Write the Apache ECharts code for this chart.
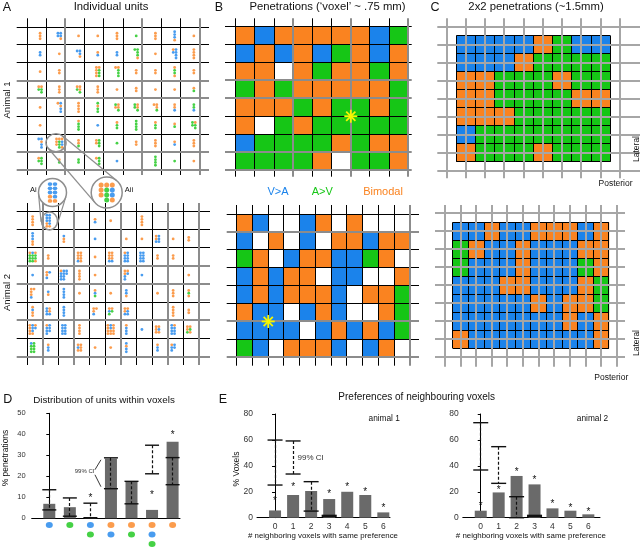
<!DOCTYPE html>
<html>
<head>
<meta charset="utf-8">
<title>Voxel preferences</title>
<script src="https://cdn.jsdelivr.net/npm/echarts@6.0.0/dist/echarts.min.js"></script>
<style>
html,body{margin:0;padding:0;background:#ffffff;}
#chart{width:640px;height:547px;}
</style>
</head>
<body>
<div id="chart"></div>
<script>
// ================= DATA =================
// Panel A: units per penetration; each cell = columns of dots separated by "|", top to bottom
// b = V>A (blue), g = A>V (green), o = bimodal (orange), _ = gap
const A1_UNITS = [
  ["ooo","bb|bbo","o","o","ooo","g","ooo","bbbo","o"],
  ["bb","o","b|bbo","ob","bb","g|gggo","o","ob|bbbb","oooo"],
  ["o","oo","","oooo|oggg","o|oggg","oo","oo","oggo","oo"],
  ["og|ogg","ooo","og|oog","ooo","o","oo","o","o","og"],
  ["o","o|bobb","oooo","gogg","go|oog","gg|oog","o|oog","oob","ggb"],
  ["o","","oggg","b","ogg","gggg","ogg","og","gg|ogg"],
  ["b|bobb","ooo|oggg|obbo","oog","oo|ggg","g","oo","ooo","ob","ooo"],
  ["og|ggg","og","gg","o|ggg","b","","gggg","g","o"]
];
const A2_UNITS = [
  ["oooo","bbboo|bbbbo","","","ob","o","","oooo","","",""],
  ["bbboo","","boo","","b","","o","o","oob|bbb","o","oo"],
  ["oggg|bggg|oggo","oo","","ooob|oooo","o","ooob|ooob","obbb|bbbb","bbbb|bbbb","oo","oo",""],
  ["b","oob|b","obbb|bbbb|bb","oooo","o","","oobb|ob","b","","","o"],
  ["ooob|o","bo","bbbb","o","obg","o","bbo","","o","ooo","ogo"],
  ["oboo","bbb|oob","bbbb","","oob|o","obg|og","oob|obb","","","oooo","oo"],
  ["oooo|bbbo|ob","obbb|bbb","bbbb|bbbb","oooo","","oooo|bboo|oooo","obbb","b","ooo|obo","bbbb|obbb","oog|ogo"],
  ["bggg|gggg","obb","","obo|ooo","o","o","bobb","","obb","obb|bb",""]
];
const AI_UNITS = ["bbboo", "bbbbo"];
const AII_UNITS = ["ooo_", "oggg", "obbo"];

// Panel B: voxel preference per penetration (w = none)
const B1_CELLS = [
  "obooooobg",
  "bobobgobo",
  "oowoggogo".slice(0,0) + "oowogoogo",
  "gogoooooo".slice(0,0) + "gogooooog",
  "ooogoggog",
  "owgoggggg",
  "bggggogoo",
  "ggggowggo"
];
const B2_CELLS = [
  "obwwbowowww",
  "bwowbwooboo",
  "gowboobbgow",
  "boboowbbwwo",
  "bobooobwoog",
  "obbwbobwwog",
  "bbbbwbobobg",
  "gbwooobwbow"
];
const B1_STAR = [6, 5];
const B2_STAR = [2, 6];

// Panel C: 2x2 penetration blocks
const C1_BLOCKS = [
  "bbbbogbb",
  "bbbogggg",
  "oogggogg",
  "ooggggoo",
  "oooggggg",
  "bggggggg",
  "ogggoggg"
];
const C2_BLOCKS = [
  "bbobbooobo",
  "gobbobbboo",
  "gbbbobbbgo",
  "bbboobbbog",
  "bbbbboboog",
  "bbbbbbbobo",
  "obbbbbbbbo"
];

// Panel D: distribution of units within voxels (% penetrations)
const D_CATEGORIES = [0, 1, 2, 3, 4, 5, 6];
const D_VALUES = [6.9, 5.3, 0.3, 28.4, 17.6, 4.0, 36.4];
const D_CI_LO = [4.0, 1.0, 0.3, 14.1, 6.9, 21.2, 16.0];
const D_CI_HI = [13.6, 9.7, 7.2, 28.8, 17.6, 34.8, 28.9];
const D_STARS = [null, null, 10.6, null, null, 12.0, 40.4];
const D_DOTS = ["b", "g", "bg", "ob", "og", "obg", "o"];
const D_TICKS = [0, 10, 20, 30, 40, 50];

// Panel E: % voxels by number of neighbours with same preference
const E_CATEGORIES = [0, 1, 2, 3, 4, 5, 6];
const E1_VALUES = [5.6, 17.5, 20.6, 14.4, 20.0, 17.5, 4.1];
const E1_CI_LO = [25.2, 33.7, 5.1, 1.0, null, null, null];
const E1_CI_HI = [59.9, 59.2, 27.8, 1.8, null, null, null];
const E1_STARS = [14.0, 25.2, null, 19.5, 24.7, 21.3, 8.5];
const E2_VALUES = [5.4, 19.5, 32.2, 25.7, 7.2, 5.4, 2.6];
const E2_CI_LO = [36.8, 26.5, 0, 1.0, null, null, null];
const E2_CI_HI = [73.3, 54.8, 16.2, 1.8, null, null, null];
const E2_STARS = [10.5, 22.6, 36.3, 30.4, 11.8, 8.5, 5.4];
const E_TICKS = [0, 20, 40, 60, 80];

// ================= STYLE / LAYOUT =================
const FONT = '"Liberation Sans", Arial, Helvetica, sans-serif';
const CLR = { b: '#1b83eb', o: '#fa8320', g: '#16c616', w: '#ffffff' };
const BAR = '#6a6a6a';
const LINE_STYLES = [
  { c: '#000000', w: 1 },
  { c: '#8c8c8c', w: 2 },
  { c: '#a6a6a6', w: 2 },
  { c: '#000000', w: 1 }
];

const chart = echarts.init(document.getElementById('chart'), null, { renderer: 'canvas' });

const grids = [], xAxes = [], yAxes = [], series = [];

function addMapGrid(g) {
  const i = grids.length;
  grids.push({ left: g.left, top: g.top, width: g.width, height: g.height, containLabel: false, outerBoundsMode: 'none' });
  xAxes.push({ type: 'value', gridIndex: i, min: g.x[0], max: g.x[1], show: false });
  yAxes.push({ type: 'value', gridIndex: i, min: g.y[0], max: g.y[1], inverse: true, show: false });
  return i;
}

const G = {
  a1: { left: 16.7, top: 18.3, width: 192.3, height: 156.7, x: [-0.536, 9.47], y: [-0.487, 8.28], px: 19.22, py: 17.875 },
  a2: { left: 16.7, top: 203, width: 193.3, height: 162, x: [-0.68, 11.70], y: [-0.48, 8.46], px: 15.61, py: 18.125 },
  b1: { left: 225, top: 18.3, width: 186.7, height: 158.4, x: [-0.558, 9.175], y: [-0.469, 8.375] },
  b2: { left: 226.7, top: 205, width: 192.3, height: 160.7, x: [-0.635, 11.571], y: [-0.503, 8.47] },
  c1: { left: 437.3, top: 18.3, width: 202.7, height: 160, x: [-0.488, 10.038], y: [-0.467, 8.422] },
  c2: { left: 435, top: 205, width: 190, height: 161.7, x: [-0.641, 11.53], y: [-0.461, 8.522] },
  ai: { left: 47.5, top: 182, width: 10, height: 21, x: [-0.5, 1.5], y: [-0.5, 4.5] },
  aii: { left: 98.3, top: 182.5, width: 16.8, height: 20, x: [-0.5, 2.5], y: [-0.5, 3.5] }
};

function crisp(v, w) { return (Math.round(w) % 2 === 1) ? Math.floor(v) + 0.5 : Math.round(v); }

function lineSeries(gi, data, z) {
  return {
    type: 'custom', xAxisIndex: gi, yAxisIndex: gi, z: z, silent: true,
    data: data,
    renderItem: function (params, api) {
      const p1 = api.coord([api.value(0), api.value(1)]);
      const p2 = api.coord([api.value(2), api.value(3)]);
      const st = LINE_STYLES[api.value(4)];
      let x1 = p1[0], y1 = p1[1], x2 = p2[0], y2 = p2[1];
      if (Math.abs(x1 - x2) < 0.01) { x1 = x2 = crisp(x1, st.w); }
      else { y1 = y2 = crisp(y1, st.w); }
      return { type: 'line', shape: { x1: x1, y1: y1, x2: x2, y2: y2 }, style: { stroke: st.c, lineWidth: st.w } };
    }
  };
}

function gridLines(nC, nR, g, vGray, hGray, grayKind) {
  const d = [];
  for (let j = 0; j <= nR; j++) d.push([g.x[0], j, g.x[1], j, hGray.includes(j) ? grayKind : 0]);
  for (let i = 0; i <= nC; i++) d.push([i, g.y[0], i, g.y[1], vGray.includes(i) ? grayKind : 0]);
  // draw black first, gray on top
  d.sort(function (a, b) { return a[4] - b[4]; });
  return d;
}

function cellSeries(gi, rows, offset, size, z) {
  const list = [];
  rows.forEach(function (row, r) {
    row.split('').forEach(function (ch, c) { list.push({ c: c, r: r, color: CLR[ch] }); });
  });
  return {
    type: 'custom', xAxisIndex: gi, yAxisIndex: gi, z: z, silent: true,
    data: list.map(function (d) { return [d.c, d.r]; }),
    renderItem: function (params, api) {
      const c = api.value(0), r = api.value(1);
      const p0 = api.coord([c + offset, r + offset]);
      const p1 = api.coord([c + offset + size, r + offset + size]);
      return { type: 'rect', shape: { x: p0[0], y: p0[1], width: p1[0] - p0[0] + 0.3, height: p1[1] - p0[1] + 0.3 },
        style: { fill: list[params.dataIndex].color } };
    }
  };
}

function buildDots(units, px, py, offsetPx) {
  const out = [];
  const sp = 2.8;
  units.forEach(function (row, r) {
    row.forEach(function (cell, c) {
      if (!cell) return;
      const cols = cell.split('|');
      const n = cols.length;
      const maxLen = Math.max.apply(null, cols.map(function (s) { return s.length; }));
      cols.forEach(function (col, k) {
        const dx = offsetPx + (k - (n - 1) / 2) * sp;
        for (let j = 0; j < col.length; j++) {
          const ch = col[j];
          if (!CLR[ch]) continue;
          const dy = (j - (maxLen - 1) / 2) * sp;
          out.push({ value: [c + 0.5 + dx / px, r + 0.5 + dy / py], itemStyle: { color: CLR[ch] } });
        }
      });
    });
  });
  return out;
}

function insetDots(cols) {
  const out = [];
  cols.forEach(function (col, k) {
    col.split('').forEach(function (ch, j) {
      if (CLR[ch]) out.push({ value: [k, j], itemStyle: { color: CLR[ch] } });
    });
  });
  return out;
}

function starSeries(gi, pt) {
  return {
    type: 'custom', xAxisIndex: gi, yAxisIndex: gi, z: 6, silent: true, data: [pt],
    renderItem: function (params, api) {
      const p = api.coord([api.value(0), api.value(1)]);
      const ch = [];
      for (let k = 0; k < 4; k++) {
        const a = k * Math.PI / 4, h = 6.5;
        ch.push({ type: 'line', shape: { x1: p[0] - h * Math.cos(a), y1: p[1] - h * Math.sin(a), x2: p[0] + h * Math.cos(a), y2: p[1] + h * Math.sin(a) },
          style: { stroke: '#f6f600', lineWidth: 1.8 } });
      }
      return { type: 'group', children: ch };
    }
  };
}

// ---- Panel A ----
const gA1 = addMapGrid(G.a1);
series.push(lineSeries(gA1, gridLines(9, 8, G.a1, [2, 6, 9], [3, 4, 7, 8], 1), 2));
series.push({ type: 'scatter', xAxisIndex: gA1, yAxisIndex: gA1, z: 4, symbol: 'circle', symbolSize: 2.8, silent: true,
  data: buildDots(A1_UNITS, G.a1.px, G.a1.py, 3.5) });
const gA2 = addMapGrid(G.a2);
series.push(lineSeries(gA2, gridLines(11, 8, G.a2, [1, 3, 6, 9, 11], [3, 4, 6, 8], 1), 2));
series.push({ type: 'scatter', xAxisIndex: gA2, yAxisIndex: gA2, z: 4, symbol: 'circle', symbolSize: 2.8, silent: true,
  data: buildDots(A2_UNITS, G.a2.px, G.a2.py, -2.5) });
const gAi = addMapGrid(G.ai);
series.push({ type: 'scatter', xAxisIndex: gAi, yAxisIndex: gAi, z: 4, symbol: 'circle', symbolSize: [4.6, 3.8], silent: true,
  data: insetDots(AI_UNITS) });
const gAii = addMapGrid(G.aii);
series.push({ type: 'scatter', xAxisIndex: gAii, yAxisIndex: gAii, z: 4, symbol: 'circle', symbolSize: 5, silent: true,
  data: insetDots(AII_UNITS) });

// ---- Panel B ----
const gB1 = addMapGrid(G.b1);
series.push(cellSeries(gB1, B1_CELLS, 0, 1, 1));
series.push(lineSeries(gB1, gridLines(9, 8, G.b1, [3, 6, 9], [3, 4, 7, 8], 1), 2));
series.push(starSeries(gB1, B1_STAR));
const gB2 = addMapGrid(G.b2);
series.push(cellSeries(gB2, B2_CELLS, 0, 1, 1));
series.push(lineSeries(gB2, gridLines(11, 8, G.b2, [11], [1, 6, 8], 1), 2));
series.push(starSeries(gB2, B2_STAR));

// ---- Panel C ----
function cPanel(gi, g, blocks) {
  const nBR = blocks.length, nBC = blocks[0].length;
  series.push(cellSeries(gi, blocks, 0.5, 1, 1));
  const fine = [];
  for (let k = 0; k <= 2 * nBC; k++) fine.push([0.5 + k * 0.5, 0.5, 0.5 + k * 0.5, 0.5 + nBR, 3]);
  for (let k = 0; k <= 2 * nBR; k++) fine.push([0.5, 0.5 + k * 0.5, 0.5 + nBC, 0.5 + k * 0.5, 3]);
  series.push(lineSeries(gi, fine, 2));
  const gray = [];
  for (let j = 0; j <= nBR + 1; j++) gray.push([g.x[0], j, g.x[1], j, 2]);
  for (let i = 0; i <= nBC + 1; i++) gray.push([i, g.y[0], i, g.y[1], 2]);
  series.push(lineSeries(gi, gray, 3));
}
const gC1 = addMapGrid(G.c1); cPanel(gC1, G.c1, C1_BLOCKS);
const gC2 = addMapGrid(G.c2); cPanel(gC2, G.c2, C2_BLOCKS);

// ---- Bar panels ----
const axisText = { color: '#333', fontFamily: FONT };
function addBarGrid(box, xr, yr, yInterval, showXLabels, labelSize, yMargin) {
  const i = grids.length;
  grids.push({ left: box.left, top: box.top, width: box.width, height: box.height, containLabel: false, outerBoundsMode: 'none' });
  xAxes.push({ type: 'value', gridIndex: i, min: xr[0], max: xr[1], interval: 1,
    axisLine: { show: true, onZero: false, lineStyle: { color: '#000', width: 1 } },
    axisTick: { show: false }, splitLine: { show: false },
    axisLabel: Object.assign({ show: showXLabels, fontSize: labelSize, margin: 4, showMinLabel: true, showMaxLabel: false,
      formatter: function (v) { return (v >= 0 && E_CATEGORIES.indexOf(Math.round(v)) >= 0 && Math.abs(v - Math.round(v)) < 1e-6) ? String(Math.round(v)) : ''; } }, axisText) });
  yAxes.push({ type: 'value', gridIndex: i, min: yr[0], max: yr[1], interval: yInterval,
    axisLine: { show: true, lineStyle: { color: '#000', width: 1 } },
    axisTick: { show: true, length: 3, lineStyle: { color: '#000', width: 1 } },
    splitLine: { show: false },
    axisLabel: Object.assign({ fontSize: labelSize, margin: yMargin }, axisText) });
  return i;
}

function whiskerSeries(gi, cats, lo, hi, hw) {
  const data = [];
  cats.forEach(function (c, k) { if (hi[k] != null) data.push([c, lo[k], hi[k]]); });
  return {
    type: 'custom', xAxisIndex: gi, yAxisIndex: gi, z: 5, silent: true, data: data,
    renderItem: function (params, api) {
      const x = api.value(0);
      const pL = api.coord([x, api.value(1)]), pH = api.coord([x, api.value(2)]);
      const cx = crisp(pL[0], 1);
      return { type: 'group', children: [
        { type: 'line', shape: { x1: cx, y1: pH[1], x2: cx, y2: pL[1] }, style: { stroke: '#111', lineWidth: 1.2, lineDash: [3, 2] } },
        { type: 'line', shape: { x1: pH[0] - hw, y1: pH[1], x2: pH[0] + hw, y2: pH[1] }, style: { stroke: '#111', lineWidth: 1.4 } },
        { type: 'line', shape: { x1: pL[0] - hw, y1: pL[1], x2: pL[0] + hw, y2: pL[1] }, style: { stroke: '#111', lineWidth: 1.4 } }
      ] };
    }
  };
}

function starTextSeries(gi, cats, vals) {
  const data = [];
  cats.forEach(function (c, k) { if (vals[k] != null) data.push([c, vals[k]]); });
  return {
    type: 'custom', xAxisIndex: gi, yAxisIndex: gi, z: 6, silent: true, data: data,
    renderItem: function (params, api) {
      const p = api.coord([api.value(0), api.value(1)]);
      return { type: 'text', style: { text: '*', x: p[0], y: p[1] + 2, textAlign: 'center', textVerticalAlign: 'middle',
        fontSize: 10, fontFamily: FONT, fill: '#111' } };
    }
  };
}

// Panel D
const gD = addBarGrid({ left: 31.7, top: 413.3, width: 148.3, height: 105 }, [-0.856, 6.36], [D_TICKS[0], D_TICKS[D_TICKS.length - 1]], 10, false, 7.5, 6);
series.push({ type: 'bar', xAxisIndex: gD, yAxisIndex: gD, barWidth: 12, z: 3, silent: true,
  itemStyle: { color: BAR }, data: D_CATEGORIES.map(function (c, k) { return [c, D_VALUES[k]]; }) });
series.push(whiskerSeries(gD, D_CATEGORIES, D_CI_LO, D_CI_HI, 7));
series.push(starTextSeries(gD, D_CATEGORIES, D_STARS));
series.push({
  type: 'custom', xAxisIndex: gD, yAxisIndex: gD, z: 6, silent: true, data: [[D_CATEGORIES[3], D_CI_LO[3], D_CI_HI[3]]],
  renderItem: function (params, api) {
    const pL = api.coord([api.value(0), api.value(1)]), pH = api.coord([api.value(0), api.value(2)]);
    const mid = (pL[1] + pH[1]) / 2, x = pL[0];
    return { type: 'group', children: [
      { type: 'line', shape: { x1: x - 16, y1: mid - 3.5, x2: x - 10, y2: pH[1] + 2 }, style: { stroke: '#222', lineWidth: 0.9 } },
      { type: 'line', shape: { x1: x - 16, y1: mid + 1.5, x2: x - 10, y2: pL[1] - 2 }, style: { stroke: '#222', lineWidth: 0.9 } },
      { type: 'text', style: { text: '99% CI', x: x - 16.5, y: mid - 1.5, textAlign: 'right', textVerticalAlign: 'middle', fontSize: 6, fontFamily: FONT, fill: '#333' } }
    ] };
  }
});
// D unit-type dots under bars
const gDd = grids.length;
grids.push({ left: 31.7, top: 520.25, width: 148.3, height: 28.5, containLabel: false, outerBoundsMode: 'none' });
xAxes.push({ type: 'value', gridIndex: gDd, min: -0.856, max: 6.36, show: false });
yAxes.push({ type: 'value', gridIndex: gDd, min: -0.5, max: 2.5, inverse: true, show: false });
const dDots = [];
D_DOTS.forEach(function (s, k) { s.split('').forEach(function (ch, j) { dDots.push({ value: [D_CATEGORIES[k], j], itemStyle: { color: CLR[ch] } }); }); });
series.push({ type: 'scatter', xAxisIndex: gDd, yAxisIndex: gDd, symbol: 'circle', symbolSize: [7, 6], silent: true, data: dDots });

// Panel E
function ePanel(box, xr, vals, lo, hi, stars) {
  const gi = addBarGrid(box, xr, [E_TICKS[0], E_TICKS[E_TICKS.length - 1]], 20, true, 8.5, 4);
  series.push({ type: 'bar', xAxisIndex: gi, yAxisIndex: gi, barWidth: 12, z: 3, silent: true,
    itemStyle: { color: BAR }, data: E_CATEGORIES.map(function (c, k) { return [c, vals[k]]; }) });
  series.push(whiskerSeries(gi, E_CATEGORIES, lo, hi, 7.5));
  series.push(starTextSeries(gi, E_CATEGORIES, stars));
  return gi;
}
const gE1 = ePanel({ left: 257, top: 414, width: 133, height: 103.7 }, [-1, 6.37], E1_VALUES, E1_CI_LO, E1_CI_HI, E1_STARS);
const gE2 = ePanel({ left: 462.8, top: 414, width: 137.2, height: 103.7 }, [-1, 6.65], E2_VALUES, E2_CI_LO, E2_CI_HI, E2_STARS);
series.push({
  type: 'custom', xAxisIndex: gE1, yAxisIndex: gE1, z: 6, silent: true, data: [[E_CATEGORIES[1], E1_CI_LO[1], E1_CI_HI[1]]],
  renderItem: function (params, api) {
    const pL = api.coord([api.value(0), api.value(1)]), pH = api.coord([api.value(0), api.value(2)]);
    return { type: 'text', style: { text: '99% CI', x: pL[0] + 4.5, y: (pL[1] + pH[1]) / 2, textAlign: 'left', textVerticalAlign: 'middle', fontSize: 8, fontFamily: FONT, fill: '#333' } };
  }
});

// ================= GRAPHIC (text + magnifier outlines) =================
const gfx = [];
function txt(t, x, y, size, opts) {
  opts = opts || {};
  gfx.push({ type: 'text', x: x, y: y, rotation: opts.rot || 0, z: 10, silent: true,
    style: { text: t, textAlign: opts.align || 'center', textVerticalAlign: 'middle', fontSize: size, fontFamily: FONT,
      fill: opts.color || '#111', fontWeight: 'normal' } });
}
txt('A', 7, 7.5, 12.5);
txt('Individual units', 111, 7, 11.3);
txt('B', 219, 7.5, 12.5);
txt('Penetrations (\u2018voxel\u2019 ~ .75 mm)', 327.5, 7, 11.3);
txt('C', 435, 7.5, 12.5);
txt('2x2 penetrations (~1.5mm)', 536, 7, 11.3);
txt('Animal 1', 7.5, 100, 9.5, { rot: Math.PI / 2 });
txt('Animal 2', 7.5, 292.5, 9.5, { rot: Math.PI / 2 });
txt('Ai', 33.3, 189.5, 7.5);
txt('Aii', 129, 190, 7.5);
txt('V>A', 278, 192, 11, { color: CLR.b });
txt('A>V', 322.3, 192, 11, { color: CLR.g });
txt('Bimodal', 383, 192, 11, { color: CLR.o });
txt('Lateral', 636.5, 149, 8.5, { rot: Math.PI / 2 });
txt('Posterior', 615.5, 183.3, 8.5);
txt('Lateral', 636.5, 343, 8.5, { rot: Math.PI / 2 });
txt('Posterior', 611.3, 377.7, 8.5);
txt('D', 7.7, 400, 12.5);
txt('Distribution of units within voxels', 104, 400.5, 9.8);
txt('% penetrations', 6, 458, 8.5, { rot: Math.PI / 2 });
txt('E', 223, 400, 12.5);
txt('Preferences of neighbouring voxels', 416.7, 397, 10);
txt('% Voxels', 237, 469, 8.5, { rot: Math.PI / 2 });
txt('animal 1', 384.2, 418.3, 8.3);
txt('animal 2', 592.5, 418.3, 8.3);
txt('# neighboring voxels with same preference', 323, 535.7, 7.9);
txt('# neighboring voxels with same preference', 530.8, 535.7, 7.9);

// magnifier circles
const RING = { stroke: '#8e8e8e', lineWidth: 1.5, fill: 'none' };
const circles = {
  ai: { cx: 52.5, cy: 192.5, r: 14 },
  aii: { cx: 106.7, cy: 192.5, r: 15.5 },
  sTop: { cx: 56, cy: 142.8, r: 9.5 },
  sBot: { cx: 49.5, cy: 221, r: 8.5 }
};
gfx.push({ type: 'circle', shape: circles.ai, style: RING, z: 9, silent: true });
gfx.push({ type: 'circle', shape: circles.aii, style: RING, z: 9, silent: true });
gfx.push({ type: 'ellipse', shape: { cx: circles.sTop.cx, cy: circles.sTop.cy, rx: 10, ry: 9 }, style: RING, z: 9, silent: true });
gfx.push({ type: 'ellipse', shape: { cx: circles.sBot.cx, cy: circles.sBot.cy, rx: 8, ry: 9 }, style: RING, z: 9, silent: true });
function tangents(a, b) {
  const dx = b.cx - a.cx, dy = b.cy - a.cy, d = Math.hypot(dx, dy);
  const th = Math.atan2(dy, dx), al = Math.acos((a.r - b.r) / d);
  [th + al, th - al].forEach(function (t) {
    gfx.push({ type: 'line', z: 9, silent: true,
      shape: { x1: a.cx + a.r * Math.cos(t), y1: a.cy + a.r * Math.sin(t), x2: b.cx + b.r * Math.cos(t), y2: b.cy + b.r * Math.sin(t) },
      style: { stroke: '#8e8e8e', lineWidth: 1.2 } });
  });
}
tangents(circles.sTop, circles.aii);
tangents(circles.sBot, circles.ai);

chart.setOption({
  animation: false,
  backgroundColor: '#ffffff',
  textStyle: { fontFamily: FONT },
  grid: grids,
  xAxis: xAxes,
  yAxis: yAxes,
  series: series,
  graphic: { elements: gfx }
});
</script>
</body>
</html>
